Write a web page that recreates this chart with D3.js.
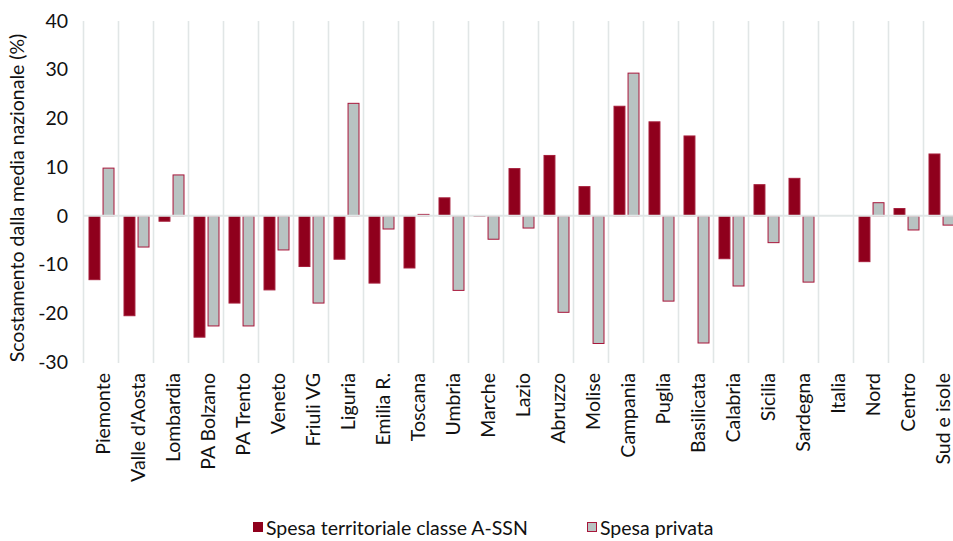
<!DOCTYPE html>
<html>
<head>
<meta charset="utf-8">
<script src="https://cdn.jsdelivr.net/npm/d3@7"></script>
<style>
  html, body { margin: 0; padding: 0; background: #fff; }
  svg { display: block; font-family: Lato, "Open Sans", sans-serif; }
</style>
</head>
<body>
<svg id="chart" width="953" height="541"></svg>
<script>
const categories = ["Piemonte","Valle d'Aosta","Lombardia","PA Bolzano","PA Trento","Veneto","Friuli VG","Liguria","Emilia R.","Toscana","Umbria","Marche","Lazio","Abruzzo","Molise","Campania","Puglia","Basilicata","Calabria","Sicilia","Sardegna","Italia","Nord","Centro","Sud e isole"];
const spesaTerritoriale = [-13.1,-20.5,-1.1,-24.9,-17.9,-15.2,-10.4,-8.9,-13.8,-10.7,3.7,-0.1,9.7,12.4,6.0,22.5,19.3,16.4,-8.8,6.4,7.7,0,-9.4,1.5,12.7];
const spesaPrivata = [9.8,-6.4,8.4,-22.6,-22.6,-7.0,-17.9,23.1,-2.7,0.3,-15.3,-4.8,-2.5,-19.8,-26.2,29.3,-17.5,-26.1,-14.4,-5.5,-13.6,0,2.7,-2.9,-1.9];
const yTicks = [-30,-20,-10,0,10,20,30,40];
const seriesNames = ["Spesa territoriale classe A-SSN","Spesa privata"];

const svg = d3.select("#chart");
const pLeft = 83.5, pRight = 958.5, pTop = 21, pBottom = 362;
const fs = 19.5, ink = "#111";

const x = d3.scaleBand().domain(categories).range([pLeft, pRight]).padding(0);
const xs = d3.scaleBand().domain([0,1]).range([5, 31]).paddingInner(0.15).paddingOuter(0);
const y = d3.scaleLinear().domain([-30, 40]).range([pBottom, pTop]);

const grid = "#e1e6e6";
svg.append("g").selectAll("line")
  .data(categories.map(c => x(c)).concat([pRight]))
  .join("line")
  .attr("x1", d => d).attr("x2", d => d)
  .attr("y1", pTop).attr("y2", pBottom + 1)
  .attr("stroke", grid).attr("stroke-width", 1.6);

const series = [
  {name: seriesNames[0], values: spesaTerritoriale, fill: "#8f001c", stroke: "#a51d3a"},
  {name: seriesNames[1], values: spesaPrivata, fill: "#b8c3c2", stroke: "#a8163a"}
];

series.forEach((s, si) => {
  svg.append("g").selectAll("rect")
    .data(categories.map((c, i) => ({c, v: s.values[i]})))
    .join("rect")
    .attr("x", d => x(d.c) + xs(si) + 0.5)
    .attr("width", xs.bandwidth() - 1)
    .attr("y", d => Math.min(y(d.v), y(0)))
    .attr("height", d => Math.abs(y(d.v) - y(0)))
    .attr("fill", s.fill)
    .attr("stroke", s.stroke)
    .attr("stroke-width", 1);
});

svg.append("line")
  .attr("x1", pLeft).attr("x2", pRight)
  .attr("y1", y(0)).attr("y2", y(0))
  .attr("stroke", grid).attr("stroke-width", 2);

const yAxis = d3.axisLeft(y).tickValues(yTicks).tickSize(0).tickPadding(0).tickFormat(d => String(d));
const yg = svg.append("g").attr("transform", "translate(68,0)").call(yAxis);
yg.select(".domain").remove();
yg.selectAll("text").attr("font-size", fs).attr("fill", ink)
  .attr("font-family", "Lato, sans-serif");

const xAxis = d3.axisBottom(x).tickSize(0).tickPadding(0);
const xg = svg.append("g").attr("transform", `translate(0,${pBottom})`).call(xAxis);
xg.select(".domain").remove();
xg.selectAll("text")
  .attr("font-size", fs).attr("fill", ink)
  .attr("font-family", "Lato, sans-serif")
  .attr("text-anchor", "end")
  .attr("transform", "rotate(-90)")
  .attr("x", -11).attr("y", 2).attr("dy", "0.35em");

svg.append("text")
  .attr("transform", "translate(24,198) rotate(-90)")
  .attr("text-anchor", "middle")
  .attr("font-size", fs)
  .attr("fill", ink)
  .text("Scostamento dalla media nazionale (%)");

const legend = [
  {name: seriesNames[0], x: 253, fill: series[0].fill, stroke: series[0].fill},
  {name: seriesNames[1], x: 587, fill: series[1].fill, stroke: series[1].stroke}
];
const lg = svg.append("g");
legend.forEach(l => {
  lg.append("rect").attr("x", l.x + 0.5).attr("y", 522.5).attr("width", 9).attr("height", 9)
    .attr("fill", l.fill).attr("stroke", l.stroke).attr("stroke-width", 1);
  lg.append("text").attr("x", l.x + 13).attr("y", 535)
    .attr("font-size", fs).attr("fill", ink).text(l.name);
});
</script>
</body>
</html>
